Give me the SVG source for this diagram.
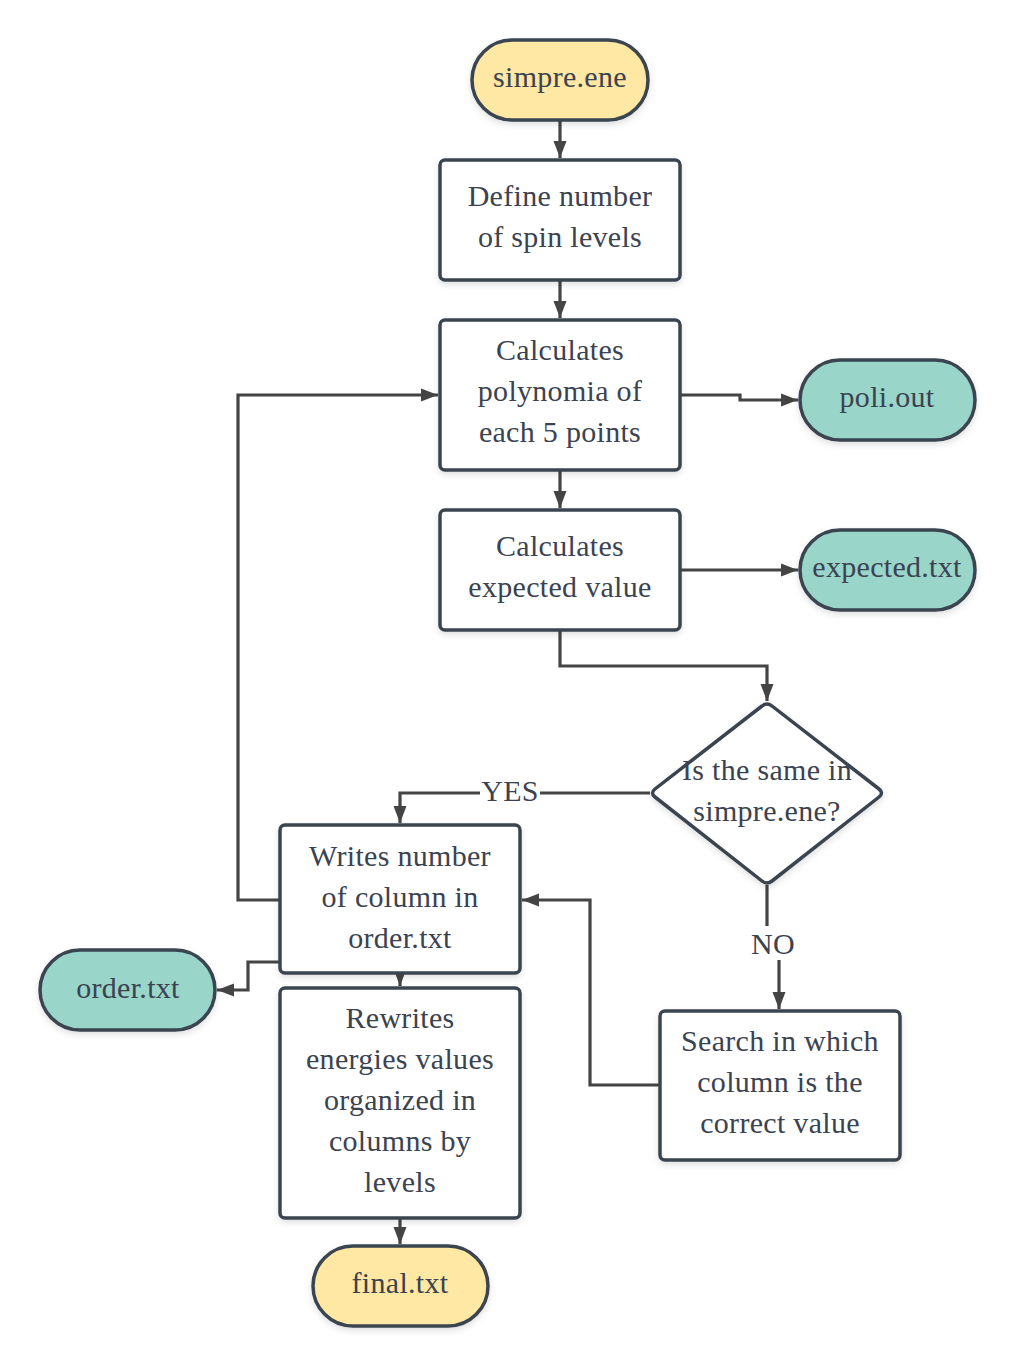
<svg xmlns="http://www.w3.org/2000/svg" width="1015" height="1368" viewBox="0 0 1015 1368">
<defs>
<marker id="arr" markerWidth="18" markerHeight="14" refX="17" refY="7" orient="auto" markerUnits="userSpaceOnUse">
<path d="M0,0.5 L17,7 L0,13.5 Z" fill="#444444"/>
</marker>
<filter id="sh" x="-10%" y="-10%" width="130%" height="140%">
<feDropShadow dx="0" dy="3" stdDeviation="3" flood-color="#000" flood-opacity="0.12"/>
</filter>
</defs>
<style>
.n{stroke:#3a4450;stroke-width:3.5;filter:url(#sh)}
.box{fill:#ffffff}
.y{fill:#ffe8a3}
.g{fill:#9ad5ca}
.t{font-family:"Liberation Serif","Times New Roman",serif;font-size:30px;letter-spacing:0.3px;fill:#3b4350;text-anchor:middle}
.c{fill:none;stroke:#444444;stroke-width:3.2}
</style>
<g id="connectors">
<path class="c" d="M560,120 V158" marker-end="url(#arr)"/>
<path class="c" d="M560,280 V318" marker-end="url(#arr)"/>
<path class="c" d="M680,395 H740 V400 H798" marker-end="url(#arr)"/>
<path class="c" d="M560,470 V508" marker-end="url(#arr)"/>
<path class="c" d="M680,570 H798" marker-end="url(#arr)"/>
<path class="c" d="M560,630 V666 H767 V701" marker-end="url(#arr)"/>
<path class="c" d="M650,793 H400 V823" marker-end="url(#arr)"/>
<path class="c" d="M767,885 V944 H779 V1009" marker-end="url(#arr)"/>
<path class="c" d="M660,1085 H590 V900 H522" marker-end="url(#arr)"/>
<path class="c" d="M280,900 H238 V395 H438" marker-end="url(#arr)"/>
<path class="c" d="M400,973 V986" marker-end="url(#arr)"/>
<path class="c" d="M280,962 H248 V990 H217" marker-end="url(#arr)"/>
<path class="c" d="M400,1218 V1244" marker-end="url(#arr)"/>
<rect x="480" y="776" width="60" height="30" fill="#ffffff"/>
<text class="t" x="510" y="801">YES</text>
<rect x="748" y="926" width="50" height="34" fill="#ffffff"/>
<text class="t" x="773" y="954">NO</text>
</g>
<g id="simpre_ene">
<rect class="n y" x="472" y="40" width="176" height="80" rx="40"/>
<text class="t" x="560" y="87">simpre.ene</text>
</g>
<g id="define">
<rect class="n box" x="440" y="160" width="240" height="120" rx="5"/>
<text class="t" x="560" y="206">Define number</text>
<text class="t" x="560" y="247">of spin levels</text>
</g>
<g id="polynomia">
<rect class="n box" x="440" y="320" width="240" height="150" rx="5"/>
<text class="t" x="560" y="360">Calculates</text>
<text class="t" x="560" y="401">polynomia of</text>
<text class="t" x="560" y="442">each 5 points</text>
</g>
<g id="poli_out">
<rect class="n g" x="800" y="360" width="175" height="80" rx="40"/>
<text class="t" x="887" y="407">poli.out</text>
</g>
<g id="expected">
<rect class="n box" x="440" y="510" width="240" height="120" rx="5"/>
<text class="t" x="560" y="556">Calculates</text>
<text class="t" x="560" y="597">expected value</text>
</g>
<g id="expected_txt">
<rect class="n g" x="800" y="530" width="175" height="80" rx="40"/>
<text class="t" x="887" y="577">expected.txt</text>
</g>
<g id="decision">
<path class="n box" d="M762,706 Q767,702 772,706 L879,789 Q884,793 879,797 L772,881 Q767,885 762,881 L655,797 Q650,793 655,789 Z"/>
<text class="t" x="767" y="780">Is the same in</text>
<text class="t" x="767" y="821">simpre.ene?</text>
</g>
<g id="writes">
<rect class="n box" x="280" y="825" width="240" height="148" rx="5"/>
<text class="t" x="400" y="866">Writes number</text>
<text class="t" x="400" y="907">of column in</text>
<text class="t" x="400" y="948">order.txt</text>
</g>
<g id="order_txt">
<rect class="n g" x="40" y="950" width="175" height="80" rx="40"/>
<text class="t" x="128" y="998">order.txt</text>
</g>
<g id="rewrites">
<rect class="n box" x="280" y="988" width="240" height="230" rx="5"/>
<text class="t" x="400" y="1028">Rewrites</text>
<text class="t" x="400" y="1069">energies values</text>
<text class="t" x="400" y="1110">organized in</text>
<text class="t" x="400" y="1151">columns by</text>
<text class="t" x="400" y="1192">levels</text>
</g>
<g id="final_txt">
<rect class="n y" x="313" y="1246" width="175" height="80" rx="40"/>
<text class="t" x="400" y="1293">final.txt</text>
</g>
<g id="search">
<rect class="n box" x="660" y="1011" width="240" height="149" rx="5"/>
<text class="t" x="780" y="1051">Search in which</text>
<text class="t" x="780" y="1092">column is the</text>
<text class="t" x="780" y="1133">correct value</text>
</g>
</svg>
